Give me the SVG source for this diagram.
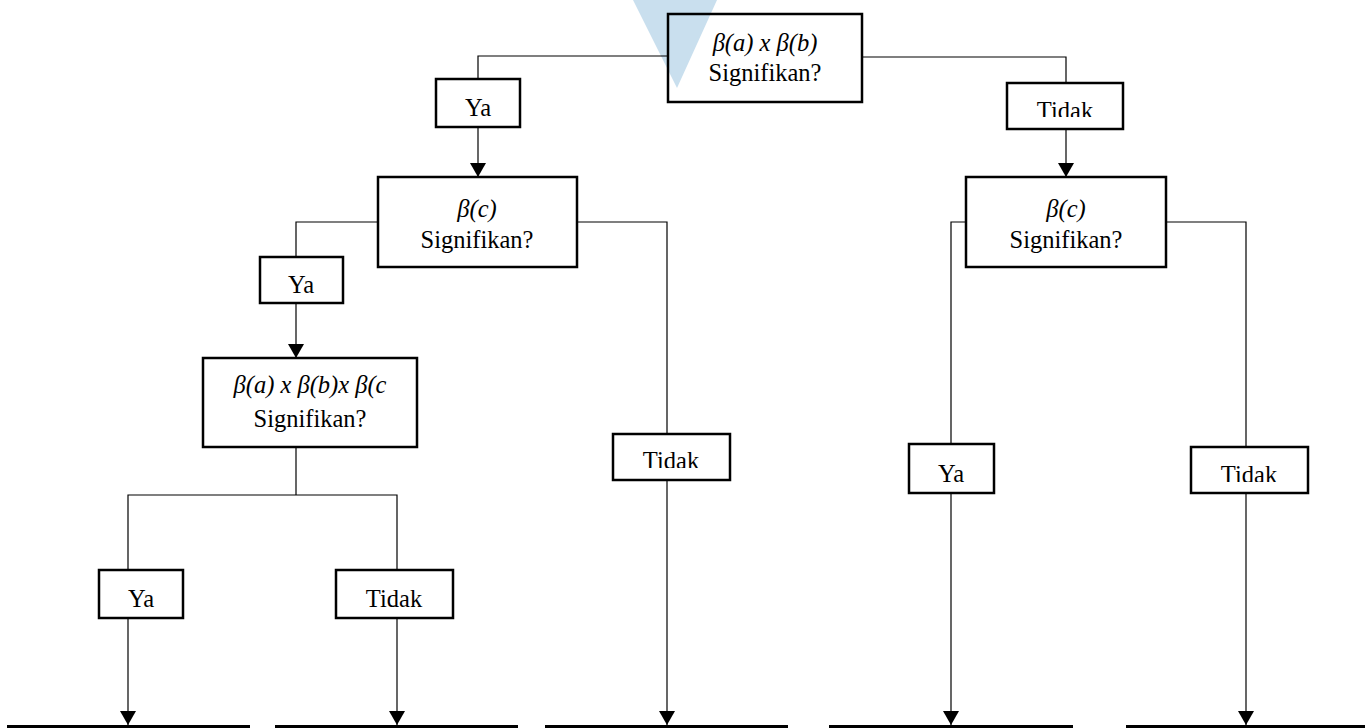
<svg xmlns="http://www.w3.org/2000/svg" width="1371" height="728" viewBox="0 0 1371 728">
  <style>
    .box { fill: none; stroke: #000; stroke-width: 2.5; }
    .wire { fill: none; stroke: #000; stroke-width: 1.2; }
    .base { stroke: #000; stroke-width: 3; }
    text { font-family: "Liberation Serif", "Times New Roman", serif; font-size: 24.5px; fill: #000; text-anchor: middle; }
    .it { font-style: italic; }
  </style>
  <defs>
    <!-- arrowhead drawn along +x, rotated by orient="auto" to follow the line -->
    <marker id="arrow" viewBox="0 0 14 16" refX="14" refY="8" markerWidth="14" markerHeight="16" markerUnits="userSpaceOnUse" orient="auto">
      <path d="M0,0 L14,8 L0,16 Z" fill="#000"/>
    </marker>
    <clipPath id="clipTidakTop"><rect x="1007" y="83" width="116" height="34"/></clipPath>
    <clipPath id="clipTidakMid"><rect x="613" y="434" width="117" height="34"/></clipPath>
    <clipPath id="clipTidakRight"><rect x="1191" y="447" width="117" height="35"/></clipPath>
  </defs>

  <rect width="1371" height="728" fill="#fff"/>

  <!-- pale marker shape behind the top node -->
  <polygon points="633,0 717,0 677,88" fill="#c9dfee"/>

  <!-- connectors -->
  <g id="connectors">
    <polyline class="wire" points="668,56 478,56 478,79"/>
    <line class="wire" x1="478" y1="127" x2="478" y2="177" marker-end="url(#arrow)"/>
    <polyline class="wire" points="862,57 1066,57 1066,83"/>
    <line class="wire" x1="1066" y1="129" x2="1066" y2="177" marker-end="url(#arrow)"/>

    <polyline class="wire" points="378,222 296,222 296,257"/>
    <line class="wire" x1="296" y1="303" x2="296" y2="358" marker-end="url(#arrow)"/>
    <polyline class="wire" points="577,222 667,222 667,434"/>
    <line class="wire" x1="667" y1="480" x2="667" y2="725" marker-end="url(#arrow)"/>

    <line class="wire" x1="296" y1="447" x2="296" y2="495"/>
    <polyline class="wire" points="128,570 128,495 397,495 397,570"/>
    <line class="wire" x1="128" y1="618" x2="128" y2="725" marker-end="url(#arrow)"/>
    <line class="wire" x1="397" y1="618" x2="397" y2="725" marker-end="url(#arrow)"/>

    <polyline class="wire" points="966,222 951,222 951,444"/>
    <line class="wire" x1="951" y1="493" x2="951" y2="725" marker-end="url(#arrow)"/>
    <polyline class="wire" points="1166,222 1246,222 1246,447"/>
    <line class="wire" x1="1246" y1="493" x2="1246" y2="725" marker-end="url(#arrow)"/>
  </g>

  <!-- outcome baselines -->
  <g id="outcomes">
    <line class="base" x1="7" y1="726.5" x2="250" y2="726.5"/>
    <line class="base" x1="275" y1="726.5" x2="518" y2="726.5"/>
    <line class="base" x1="545" y1="726.5" x2="788" y2="726.5"/>
    <line class="base" x1="829" y1="726.5" x2="1073" y2="726.5"/>
    <line class="base" x1="1126" y1="726.5" x2="1365" y2="726.5"/>
  </g>

  <g id="q-ab">
    <rect class="box" x="668" y="14" width="194" height="88"/>
    <text class="it" x="765" y="51">β(a) x β(b)</text>
    <text x="765" y="81">Signifikan?</text>
  </g>

  <g id="ya-1">
    <rect class="box" x="436" y="79" width="84" height="48"/>
    <text x="478" y="116">Ya</text>
  </g>

  <g id="tidak-1">
    <rect class="box" x="1007" y="83" width="116" height="46"/>
    <text x="1065" y="119" clip-path="url(#clipTidakTop)">Tidak</text>
  </g>

  <g id="q-c-left">
    <rect class="box" x="378" y="177" width="199" height="90"/>
    <text class="it" x="477" y="217">β(c)</text>
    <text x="477" y="248">Signifikan?</text>
  </g>

  <g id="q-c-right">
    <rect class="box" x="966" y="177" width="200" height="90"/>
    <text class="it" x="1066" y="217">β(c)</text>
    <text x="1066" y="248">Signifikan?</text>
  </g>

  <g id="ya-2">
    <rect class="box" x="260" y="257" width="83" height="46"/>
    <text x="301" y="293">Ya</text>
  </g>

  <g id="q-abc">
    <rect class="box" x="203" y="358" width="214" height="89"/>
    <text class="it" x="310" y="393">β(a) x β(b)x β(c</text>
    <text x="310" y="427">Signifikan?</text>
  </g>

  <g id="tidak-2">
    <rect class="box" x="613" y="434" width="117" height="46"/>
    <text x="671" y="469" clip-path="url(#clipTidakMid)">Tidak</text>
  </g>

  <g id="ya-3">
    <rect class="box" x="909" y="444" width="85" height="49"/>
    <text x="951" y="482">Ya</text>
  </g>

  <g id="tidak-3">
    <rect class="box" x="1191" y="447" width="117" height="46"/>
    <text x="1249" y="483" clip-path="url(#clipTidakRight)">Tidak</text>
  </g>

  <g id="ya-4">
    <rect class="box" x="99" y="570" width="84" height="48"/>
    <text x="141" y="607">Ya</text>
  </g>

  <g id="tidak-4">
    <rect class="box" x="336" y="570" width="117" height="48"/>
    <text x="394" y="607">Tidak</text>
  </g>
</svg>
